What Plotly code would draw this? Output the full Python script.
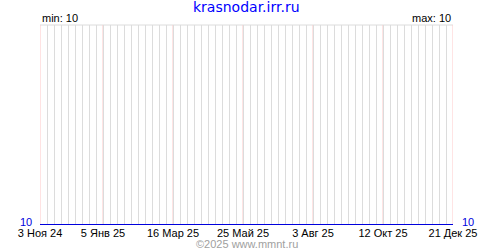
import plotly.graph_objects as go

# Data
dates = ["2024-11-03", "2025-12-21"]
values = [10, 10]
tick_dates = ["2024-11-03", "2025-01-05", "2025-03-16", "2025-05-25",
              "2025-08-03", "2025-10-12", "2025-12-21"]
tick_labels = ["3 Ноя 24", "5 Янв 25", "16 Мар 25", "25 Май 25",
               "3 Авг 25", "12 Окт 25", "21 Дек 25"]
title_text = "krasnodar.irr.ru"
footer_text = "©2025 www.mmnt.ru"
min_val = 10
max_val = 10

TFONT = "DejaVu Sans"
FONT = "Liberation Sans"

fig = go.Figure()
fig.add_trace(go.Scatter(x=dates, y=values, mode="lines",
                         line=dict(color="#0000dd", width=2),
                         hoverinfo="skip", showlegend=False))

shapes = [dict(type="line", xref="paper", yref="paper", x0=0, x1=1, y0=1, y1=1,
               line=dict(color="#dcdcdc", width=1), layer="between")]
for d in tick_dates:
    shapes.append(dict(type="line", xref="x", yref="paper", x0=d, x1=d, y0=0, y1=1,
                       line=dict(color="#ffc8c8", width=1), layer="between"))

fig.update_layout(
    width=500, height=250,
    margin=dict(l=40, r=47, t=25, b=25),
    paper_bgcolor="white", plot_bgcolor="white",
    font=dict(family=FONT, size=10, color="black"),
    xaxis=dict(
        type="date",
        range=[dates[0], dates[-1]],
        tickmode="array", tickvals=tick_dates, ticktext=tick_labels,
        showgrid=False,
        showline=False, zeroline=False, ticks="",
        tickfont=dict(family=FONT, size=11, color="black"),
        minor=dict(tick0="2024-11-03", dtick=7 * 86400000,
                   showgrid=True, gridcolor="#dcdcdc", gridwidth=1),
    ),
    yaxis=dict(range=[min_val, min_val + 1], showgrid=False, zeroline=False,
               showticklabels=False, showline=False, fixedrange=True),
    shapes=shapes,
    annotations=[
        dict(text=title_text, x=0.5, xref="paper", y=1, yref="paper",
             yanchor="bottom", yshift=8, showarrow=False,
             font=dict(family=TFONT, size=14, color="#0000ff")),
        dict(text=f"min: {min_val}", x=0, xref="paper", y=1, yref="paper",
             xanchor="left", yanchor="bottom", showarrow=False, yshift=-1,
             font=dict(family=FONT, size=11, color="black")),
        dict(text=f"max: {max_val}", x=1, xref="paper", y=1, yref="paper",
             xanchor="right", yanchor="bottom", showarrow=False, yshift=-1,
             font=dict(family=FONT, size=11, color="black")),
        dict(text=str(values[0]), x=0, xref="paper", y=values[0], yref="y",
             xanchor="right", showarrow=False, xshift=-6, yshift=3,
             font=dict(family=FONT, size=11, color="#0000dd")),
        dict(text=str(values[-1]), x=1, xref="paper", y=values[-1], yref="y",
             xanchor="left", showarrow=False, xshift=7, yshift=3,
             font=dict(family=FONT, size=11, color="#0000dd")),
        dict(text=footer_text, x=0.5, xref="paper", y=0, yref="paper",
             yshift=-11, yanchor="top", showarrow=False,
             font=dict(family=FONT, size=11, color="#a0a0a0")),
    ],
)

fig.write_html("out.html")
